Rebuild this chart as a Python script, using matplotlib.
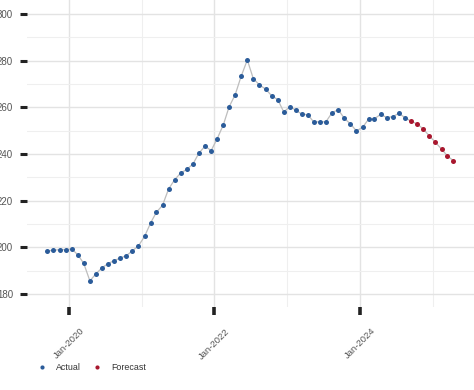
"""Monthly index with forecast, recreated from a reference chart."""

import matplotlib

matplotlib.use("Agg")
import matplotlib.dates as mdates
import matplotlib.pyplot as plt
import numpy as np
import pandas as pd
from matplotlib.lines import Line2D

plt.rcParams["font.family"] = ["Liberation Sans", "DejaVu Sans"]

# monthly values, actual Sep-2019 .. Aug-2024, forecast Sep-2024 .. Apr-2025
actual_start = "2019-09-01"
actual_values = [
    198.5, 198.7, 199.0, 199.0, 199.3, 196.7, 193.1, 185.6, 188.6, 191.2,
    193.0, 194.3, 195.4, 196.4, 198.5, 200.6, 204.7, 210.6, 215.0, 218.0,
    224.9, 229.0, 231.8, 233.4, 235.7, 240.4, 243.4, 241.4, 246.6, 252.6,
    260.1, 265.4, 273.3, 280.3, 272.3, 269.6, 267.8, 265.0, 263.3, 258.0,
    260.3, 258.7, 257.1, 256.8, 253.7, 253.8, 253.8, 257.7, 259.0, 255.3,
    252.9, 249.9, 251.4, 255.0, 255.1, 257.0, 255.6, 256.0, 257.4, 255.6,
]
forecast_values = [254.0, 252.9, 250.7, 247.8, 245.0, 242.1, 239.3, 237.1]

y_ticks = [180, 200, 220, 240, 260, 280, 300]
x_ticks = ["2020-01-01", "2022-01-01", "2024-01-01"]

BLUE = "#2b5c9a"
RED = "#a8172e"
LINE = "#bdbdbd"
GRID = "#e3e3e3"
TEXT = "#555555"

# points sit mid-month
dates = pd.date_range(actual_start, periods=len(actual_values) + len(forecast_values),
                      freq="MS") + pd.Timedelta(days=14)
act_dates = dates[: len(actual_values)]
fc_dates = dates[len(actual_values):]
all_values = np.array(actual_values + forecast_values)

fig = plt.figure(figsize=(4.74, 3.90), dpi=100)
ax = fig.add_axes([27 / 474, 83 / 390, 1 - 27 / 474, 1 - 83 / 390])

ax.plot(dates, all_values, color=LINE, linewidth=0.9, zorder=2)
ax.plot(act_dates, actual_values, "o", color=BLUE, markersize=3.6,
        markeredgewidth=0, zorder=3)
ax.plot(fc_dates, forecast_values, "o", color=RED, markersize=3.6,
        markeredgewidth=0, zorder=3)

ax.set_yticks(y_ticks)
ax.set_yticks(np.arange(170, 310, 10), minor=True)
ax.set_xticks(pd.to_datetime(x_ticks))
ax.set_xticks(pd.to_datetime(["2021-01-01", "2023-01-01", "2025-01-01"]),
              minor=True)
ax.xaxis.set_major_formatter(mdates.DateFormatter("%b-%Y"))

ax.set_xlim(pd.Timestamp("2019-06-04"), pd.Timestamp("2025-07-28"))
ax.set_ylim(174.4, 306)

ax.grid(True, which="major", color=GRID, linewidth=1.0)
ax.grid(True, which="minor", color="#efefef", linewidth=0.8)
ax.set_axisbelow(True)

ax.tick_params(axis="y", which="major", length=5, width=2.2, color="#222222",
               labelsize=7, labelcolor=TEXT, pad=5)
ax.tick_params(axis="x", which="major", length=6, width=2.6, color="#222222",
               labelsize=6.8, labelcolor=TEXT, pad=8, labelrotation=45)
ax.tick_params(which="minor", length=0)
for lab in ax.get_xticklabels():
    lab.set_ha("center")

for spine in ax.spines.values():
    spine.set_visible(False)

handles = [
    Line2D([], [], marker="o", linestyle="none", color=BLUE, markersize=3,
           markeredgewidth=0, label="Actual"),
    Line2D([], [], marker="o", linestyle="none", color=RED, markersize=3,
           markeredgewidth=0, label="Forecast"),
]
fig.legend(handles=handles, loc="center left", bbox_to_anchor=(0.062, 0.058),
           ncol=2, frameon=False, fontsize=6.4, labelcolor="#333333",
           handlelength=1.0, handletextpad=1.1, columnspacing=1.3)

fig.savefig("out.png", dpi=100)
